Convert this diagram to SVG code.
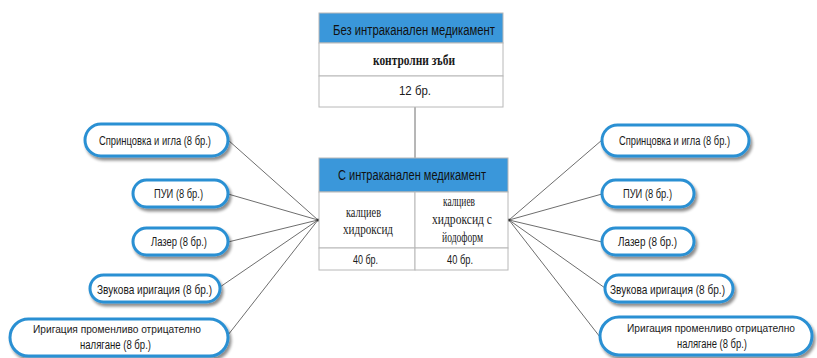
<svg xmlns="http://www.w3.org/2000/svg" width="817" height="358" viewBox="0 0 817 358">
<defs>
<filter id="sh" x="-10%" y="-30%" width="125%" height="170%">
<feGaussianBlur in="SourceAlpha" stdDeviation="1.5"/>
<feOffset dx="2" dy="2.5" result="b"/>
<feComponentTransfer><feFuncA type="linear" slope="0.45"/></feComponentTransfer>
<feMerge><feMergeNode/><feMergeNode in="SourceGraphic"/></feMerge>
</filter>
</defs>
<style>
.cell{fill:#ffffff;stroke:#b8b8b8;stroke-width:1}
.head{fill:#3a97da;stroke:#b8b8b8;stroke-width:1}
.pill{fill:#ffffff;stroke:#2b90d3;stroke-width:3;filter:url(#sh)}
.ln{stroke:#6e6e6e;stroke-width:1;fill:none}
.s{font-family:"Liberation Sans",Arial,sans-serif;fill:#1a1a1a}
.h{font-family:"Liberation Sans",Arial,sans-serif;font-size:14px;fill:#111}
.r{font-family:"Liberation Serif","Times New Roman",serif;font-size:14px;fill:#1a1a1a}
.b{font-weight:bold}
.dot{fill:#333}
</style>
<rect width="817" height="358" fill="#ffffff"/>
<g id="connectors">
<line class="ln" x1="415" y1="107" x2="415" y2="158"/>
<line class="ln" x1="318" y1="220" x2="228" y2="140"/>
<line class="ln" x1="318" y1="220" x2="228" y2="194"/>
<line class="ln" x1="318" y1="220" x2="228" y2="242"/>
<line class="ln" x1="318" y1="220" x2="220" y2="287"/>
<line class="ln" x1="318" y1="220" x2="228" y2="335"/>
<line class="ln" x1="509" y1="220" x2="602" y2="140"/>
<line class="ln" x1="509" y1="220" x2="602" y2="194"/>
<line class="ln" x1="509" y1="220" x2="602" y2="242"/>
<line class="ln" x1="509" y1="220" x2="605" y2="288"/>
<line class="ln" x1="509" y1="220" x2="600" y2="337"/>
<circle class="dot" cx="318" cy="220" r="1.5"/>
<circle class="dot" cx="509" cy="220" r="1.5"/>
</g>
<g id="top-box">
<rect class="head" x="319" y="13" width="184" height="30"/>
<rect class="cell" x="319" y="43" width="184" height="33"/>
<rect class="cell" x="319" y="76" width="184" height="31"/>
<text class="h" x="333" y="35" textLength="162" lengthAdjust="spacingAndGlyphs">Без интраканален медикамент</text>
<text class="r b" x="373" y="65" textLength="82" lengthAdjust="spacingAndGlyphs">контролни зъби</text>
<text class="s" x="399" y="95" font-size="12" textLength="32" lengthAdjust="spacingAndGlyphs">12 бр.</text>
</g>
<g id="middle-box">
<rect class="head" x="319" y="158" width="189" height="34"/>
<rect class="cell" x="319" y="192" width="96" height="56"/>
<rect class="cell" x="415" y="192" width="93" height="56"/>
<rect class="cell" x="319" y="248" width="96" height="22"/>
<rect class="cell" x="415" y="248" width="93" height="22"/>
<text class="h" x="338" y="180" textLength="148" lengthAdjust="spacingAndGlyphs">С интраканален медикамент</text>
<text class="r" x="346" y="217" textLength="35" lengthAdjust="spacingAndGlyphs">калциев</text>
<text class="r" x="343" y="234" textLength="50" lengthAdjust="spacingAndGlyphs">хидроксид</text>
<text class="r" x="443" y="206" textLength="32" lengthAdjust="spacingAndGlyphs">калциев</text>
<text class="r" x="432" y="224" textLength="60" lengthAdjust="spacingAndGlyphs">хидроксид с</text>
<text class="r" x="442" y="242" textLength="41" lengthAdjust="spacingAndGlyphs">йодоформ</text>
<text class="s" x="353" y="264" font-size="12" textLength="25" lengthAdjust="spacingAndGlyphs">40 бр.</text>
<text class="s" x="447" y="264" font-size="12" textLength="26" lengthAdjust="spacingAndGlyphs">40 бр.</text>
</g>
<g id="left-1">
<rect class="pill" x="85" y="124" width="143" height="32" rx="16"/>
<text class="s" x="99" y="145" font-size="12" textLength="112" lengthAdjust="spacingAndGlyphs">Спринцовка и игла (8 бр.)</text>
</g>
<g id="left-2">
<rect class="pill" x="133" y="180" width="95" height="27" rx="13.5"/>
<text class="s" x="154" y="198" font-size="12" textLength="49" lengthAdjust="spacingAndGlyphs">ПУИ (8 бр.)</text>
</g>
<g id="left-3">
<rect class="pill" x="133" y="228" width="95" height="27" rx="13.5"/>
<text class="s" x="151" y="246" font-size="12" textLength="56" lengthAdjust="spacingAndGlyphs">Лазер (8 бр.)</text>
</g>
<g id="left-4">
<rect class="pill" x="90" y="275" width="130" height="27" rx="13.5"/>
<text class="s" x="97" y="294" font-size="13" textLength="115" lengthAdjust="spacingAndGlyphs">Звукова иригация (8 бр.)</text>
</g>
<g id="left-5">
<rect class="pill" x="10" y="319" width="218" height="37" rx="18.5"/>
<text class="s" x="33" y="333" font-size="11.5" textLength="168" lengthAdjust="spacingAndGlyphs">Иригация променливо отрицателно</text>
<text class="s" x="80" y="349" font-size="12.5" textLength="71" lengthAdjust="spacingAndGlyphs">налягане (8 бр.)</text>
</g>
<g id="right-1">
<rect class="pill" x="602" y="125" width="147" height="31" rx="15.5"/>
<text class="s" x="619" y="145" font-size="12" textLength="111" lengthAdjust="spacingAndGlyphs">Спринцовка и игла (8 бр.)</text>
</g>
<g id="right-2">
<rect class="pill" x="602" y="180" width="92" height="27" rx="13.5"/>
<text class="s" x="623" y="198" font-size="12" textLength="49" lengthAdjust="spacingAndGlyphs">ПУИ (8 бр.)</text>
</g>
<g id="right-3">
<rect class="pill" x="602" y="228" width="92" height="27" rx="13.5"/>
<text class="s" x="618" y="246" font-size="12" textLength="59" lengthAdjust="spacingAndGlyphs">Лазер (8 бр.)</text>
</g>
<g id="right-4">
<rect class="pill" x="605" y="275" width="128" height="27" rx="13.5"/>
<text class="s" x="610" y="294" font-size="13" textLength="115" lengthAdjust="spacingAndGlyphs">Звукова иригация (8 бр.)</text>
</g>
<g id="right-5">
<rect class="pill" x="600" y="317" width="212" height="38" rx="19"/>
<text class="s" x="627" y="332" font-size="11.5" textLength="168" lengthAdjust="spacingAndGlyphs">Иригация променливо отрицателно</text>
<text class="s" x="677" y="348" font-size="12.5" textLength="70" lengthAdjust="spacingAndGlyphs">налягане (8 бр.)</text>
</g>
</svg>
